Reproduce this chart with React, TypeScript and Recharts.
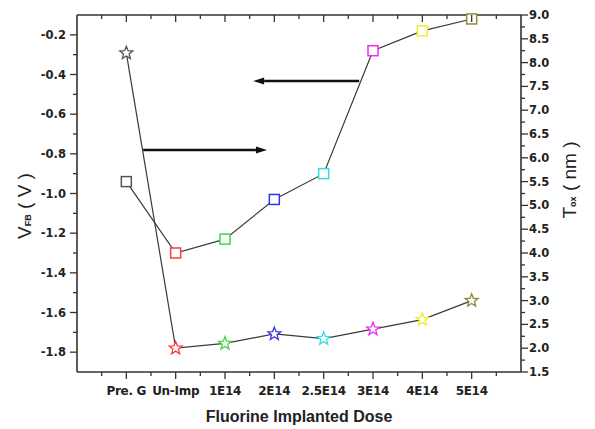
import { ComposedChart, Line, XAxis, YAxis, ReferenceLine } from "recharts"

const doses = ["Pre. G", "Un-Imp", "1E14", "2E14", "2.5E14", "3E14", "4E14", "5E14"]
const vfb = [-0.94, -1.3, -1.23, -1.03, -0.9, -0.28, -0.18, -0.12]
const tox = [8.2, 2.0, 2.1, 2.3, 2.2, 2.4, 2.6, 3.0]
const markerColors = ["#555555", "#ff3b3b", "#3ddc3d", "#3434e8", "#2ee0e0", "#ee2cee", "#eeee2a", "#8c8c3c"]

const xTicks = [0.5, 1, 1.5, 2, 2.5, 3, 3.5, 4, 4.5, 5, 5.5, 6, 6.5, 7, 7.5, 8, 8.5]
const vfbTicks = [-1.8, -1.7, -1.6, -1.5, -1.4, -1.3, -1.2, -1.1, -1.0, -0.9, -0.8, -0.7, -0.6, -0.5, -0.4, -0.3, -0.2]
const toxTicks = [
  1.5, 1.75, 2.0, 2.25, 2.5, 2.75, 3.0, 3.25, 3.5, 3.75, 4.0, 4.25, 4.5, 4.75, 5.0, 5.25,
  5.5, 5.75, 6.0, 6.25, 6.5, 6.75, 7.0, 7.25, 7.5, 7.75, 8.0, 8.25, 8.5, 8.75, 9.0,
]

// annotation arrows (in data units of the left axis)
const arrowToVfb = [{ x: 5.72, y: -0.433 }, { x: 3.57, y: -0.433 }]
const arrowToTox = [{ x: 1.34, y: -0.781 }, { x: 3.85, y: -0.781 }]

const data = doses.map((dose, i) => ({ pos: i + 1, dose, vfb: vfb[i], tox: tox[i] }))

const TICK_FONT = "'DejaVu Sans', sans-serif"
const AXIS_COLOR = "#333"

const BottomTick = (props: any) => {
  const { x, y, payload } = props
  const v = payload.value
  const major = Number.isInteger(v)
  return (
    <g>
      <line x1={x} y1={y} x2={x} y2={y + (major ? 7 : 4)} stroke={AXIS_COLOR} strokeWidth={1.3} />
      {major && (
        <text x={x} y={y + 23} textAnchor="middle" fontFamily={TICK_FONT} fontWeight="bold" fontSize={12} letterSpacing={-0.3} fill="#222">
          {doses[v - 1]}
        </text>
      )}
    </g>
  )
}

const TopTick = (props: any) => {
  const { x, y, payload } = props
  const major = Number.isInteger(payload.value)
  return <line x1={x} y1={y} x2={x} y2={y + (major ? 7 : 4)} stroke={AXIS_COLOR} strokeWidth={1.3} />
}

const LeftTick = (props: any) => {
  const { x, y, payload } = props
  const v = payload.value
  const major = Math.abs(Math.round(v * 10)) % 2 === 0
  return (
    <g>
      <line x1={x} y1={y} x2={x - (major ? 7 : 4)} y2={y} stroke={AXIS_COLOR} strokeWidth={1.3} />
      {major && (
        <text x={x - 11} y={y + 4} textAnchor="end" fontFamily={TICK_FONT} fontWeight="bold" fontSize={11.5} fill="#222">
          {v.toFixed(1)}
        </text>
      )}
    </g>
  )
}

const RightTick = (props: any) => {
  const { x, y, payload } = props
  const v = payload.value
  const major = Math.round(v * 4) % 2 === 0
  return (
    <g>
      <line x1={x} y1={y} x2={x + (major ? 7 : 4)} y2={y} stroke={AXIS_COLOR} strokeWidth={1.3} />
      {major && (
        <text x={x + 8} y={y + 4} textAnchor="start" fontFamily={TICK_FONT} fontWeight="bold" fontSize={11.5} fill="#222">
          {v.toFixed(1)}
        </text>
      )}
    </g>
  )
}

const SquareDot = (props: any) => {
  const { cx, cy, index } = props
  if (cx == null || cy == null) return null
  return (
    <rect key={`sq-${index}`} x={cx - 5} y={cy - 5} width={10} height={10} fill="#fff" stroke={markerColors[index]} strokeWidth={1.5} />
  )
}

const StarDot = (props: any) => {
  const { cx, cy, index } = props
  if (cx == null || cy == null) return null
  const pts: string[] = []
  for (let k = 0; k < 10; k++) {
    const a = ((-90 + 36 * k) * Math.PI) / 180
    const r = k % 2 === 0 ? 6.8 : 2.9
    pts.push(`${cx + r * Math.cos(a)},${cy + r * Math.sin(a)}`)
  }
  return <polygon key={`st-${index}`} points={pts.join(" ")} fill="#fff" stroke={markerColors[index]} strokeWidth={1.3} />
}

const arrowShape = (props: any) => {
  const { x1, y1, x2, y2 } = props
  const dir = x2 > x1 ? 1 : -1
  const tipX = x2
  const baseX = x2 - dir * 11
  return (
    <g>
      <line x1={x1} y1={y1} x2={baseX} y2={y2} stroke="#111" strokeWidth={2.6} />
      <polygon points={`${tipX},${y2} ${baseX},${y2 - 3.5} ${baseX},${y2 + 3.5}`} fill="#111" />
    </g>
  )
}

const VfbLabel = () => (
  <text
    x={24}
    y={206}
    transform="rotate(-90 24 206)"
    textAnchor="middle"
    dominantBaseline="central"
    fontFamily="'Liberation Sans', Arial, sans-serif"
    fontSize={19}
    fill="#222"
  >
    V
    <tspan fontSize={9} fontWeight="bold" dy={4}>FB</tspan>
    <tspan dy={-4}> ( V )</tspan>
  </text>
)

const ToxLabel = () => (
  <text
    x={569}
    y={180}
    transform="rotate(-90 569 180)"
    textAnchor="middle"
    dominantBaseline="central"
    fontFamily="'Liberation Sans', Arial, sans-serif"
    fontSize={19}
    fill="#222"
  >
    T
    <tspan fontSize={9} fontWeight="bold" dy={4}>ox</tspan>
    <tspan dy={-4}> ( nm )</tspan>
  </text>
)

const DoseLabel = () => (
  <text x={299} y={422} textAnchor="middle" fontFamily="'Liberation Sans', Arial, sans-serif" fontWeight="bold" fontSize={16} fill="#222">
    Fluorine Implanted Dose
  </text>
)

export default function App() {
  return (
    <div style={{ position: "absolute", left: 0, top: 0, width: 595, height: 429, background: "#fff" }}>
      <ComposedChart width={595} height={429} data={data} margin={{ top: 0, right: 0, bottom: 0, left: 0 }}>
        <XAxis
          dataKey="pos"
          type="number"
          domain={[0, 9]}
          ticks={xTicks}
          interval={0}
          height={57}
          tickSize={0}
          tickMargin={0}
          tickLine={false}
          tick={BottomTick}
          axisLine={{ stroke: AXIS_COLOR, strokeWidth: 1.6 }}
          label={<DoseLabel />}
        />
        <XAxis
          xAxisId="top"
          orientation="top"
          dataKey="pos"
          type="number"
          domain={[0, 9]}
          ticks={xTicks}
          interval={0}
          height={15}
          tickSize={0}
          tickMargin={0}
          tickLine={false}
          tick={TopTick}
          axisLine={{ stroke: AXIS_COLOR, strokeWidth: 1.6 }}
        />
        <YAxis
          yAxisId="left"
          type="number"
          domain={[-1.9, -0.1]}
          ticks={vfbTicks}
          interval={0}
          width={77}
          tickSize={0}
          tickMargin={0}
          tickLine={false}
          tick={LeftTick}
          axisLine={{ stroke: AXIS_COLOR, strokeWidth: 1.6 }}
          label={<VfbLabel />}
        />
        <YAxis
          yAxisId="right"
          orientation="right"
          type="number"
          domain={[1.5, 9]}
          ticks={toxTicks}
          interval={0}
          width={74}
          tickSize={0}
          tickMargin={0}
          tickLine={false}
          tick={RightTick}
          axisLine={{ stroke: AXIS_COLOR, strokeWidth: 1.6 }}
          label={<ToxLabel />}
        />
        <ReferenceLine yAxisId="left" segment={arrowToVfb} shape={arrowShape} />
        <ReferenceLine yAxisId="left" segment={arrowToTox} shape={arrowShape} />
        <Line
          yAxisId="right"
          dataKey="tox"
          stroke="#3a3a3a"
          strokeWidth={1.2}
          dot={StarDot}
          activeDot={false}
          isAnimationActive={false}
        />
        <Line
          yAxisId="left"
          dataKey="vfb"
          stroke="#3a3a3a"
          strokeWidth={1.2}
          dot={SquareDot}
          activeDot={false}
          isAnimationActive={false}
        />
      </ComposedChart>
    </div>
  )
}
